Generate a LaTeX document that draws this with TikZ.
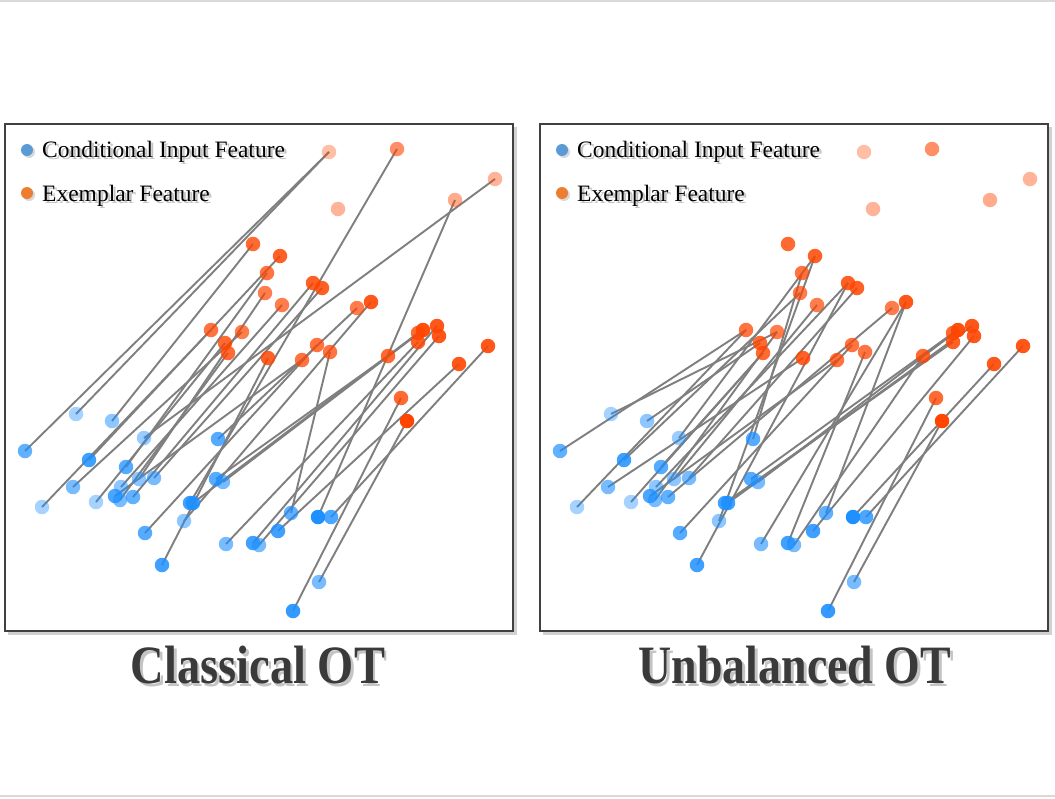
\documentclass[tikz,border=0pt]{standalone}
\usepackage{fontspec}
\setmainfont{Liberation Serif}
\usepackage{graphicx}
\definecolor{ptblue}{HTML}{1E90FF}
\definecolor{ptorange}{HTML}{FF4500}
\definecolor{legblue}{HTML}{5B9BD5}
\definecolor{legorange}{HTML}{ED7D31}
\definecolor{linkgray}{HTML}{7F7F7F}
\definecolor{framegray}{HTML}{404040}
\definecolor{titlegray}{HTML}{3A3A3A}
\definecolor{shadowgray}{HTML}{C4C4C4}
\newcommand{\shadowed}[2]{\makebox[0pt][l]{\kern#1\raisebox{-#1}{\textcolor{shadowgray}{#2}}}#2}
\pgfdeclarelayer{back}
\pgfdeclarelayer{links}
\pgfsetlayers{back,links,main}
\tikzset{
  bpt/.style={circle, fill=ptblue, inner sep=0pt, minimum size=14.5pt},
  opt/.style={circle, fill=ptorange, inner sep=0pt, minimum size=14.5pt},
  link/.style={draw=linkgray, line width=1.9pt},
  panelframe/.style={draw=framegray, line width=2pt, fill=white},
  panelshadow/.style={fill=black, opacity=0.18},
  legdot/.style={circle, inner sep=0pt, minimum size=12pt},
  legtext/.style={anchor=base west, inner sep=0pt, font=\fontsize{23.5}{26}\selectfont, text=black},
  titletext/.style={anchor=base, inner sep=0pt, font=\fontsize{54}{60}\selectfont\bfseries, text=titlegray},
}
\def\bluepts{1/25/451/0.7, 2/76/414/0.4, 3/112/421/0.5, 4/144/438/0.45, 5/218/439/0.75,
 6/89/460/0.85, 7/126/467/0.75, 8/73/487/0.6, 9/139/479/0.5, 10/154/478/0.6,
 11/42/507/0.4, 12/96/502/0.4, 13/121/487/0.5, 14/115/496/0.8, 15/120/500/0.6,
 16/133/497/0.7, 17/216/479/0.75, 18/223/482/0.6, 19/190/503/0.85, 20/193/503/0.85,
 21/184/521/0.5, 22/145/533/0.75, 23/162/565/0.85, 24/226/544/0.6, 25/253/543/0.85,
 26/259/545/0.6, 27/278/531/0.85, 28/291/513/0.7, 29/318/517/1.0, 30/331/517/0.8,
 31/319/582/0.6, 32/293/611/0.9}
\def\orangepts{1/329/152/0.35, 2/397/149/0.6, 3/495/179/0.4, 4/455/200/0.45, 5/338/209/0.4,
 6/253/244/0.8, 7/280/256/0.85, 8/267/273/0.75, 9/265/293/0.7, 10/282/305/0.7,
 11/313/283/0.85, 12/322/288/0.85, 13/357/308/0.7, 14/371/302/0.9, 15/211/330/0.75,
 16/242/332/0.7, 17/225/343/0.8, 18/228/353/0.8, 19/268/358/0.85, 20/302/360/0.75,
 21/317/345/0.75, 22/330/352/0.75, 23/388/356/0.8, 24/418/333/0.8, 25/423/330/0.95,
 26/418/342/0.85, 27/437/326/0.9, 28/439/336/0.9, 29/459/364/0.9, 30/488/346/0.9,
 31/401/398/0.8, 32/407/421/1.0}
\begin{document}
\begin{tikzpicture}[x=1pt,y=-1pt]
\useasboundingbox (0,0) rectangle (1055,798);
% background and panels
\begin{pgfonlayer}{back}
\fill[white] (0,0) rectangle (1055,798);
\draw[black!15, line width=1.5pt] (0,1) -- (1055,1);
\draw[black!15, line width=1.5pt] (0,796) -- (1055,796);
\foreach \dx in {0,535} {
  \fill[panelshadow] (\dx+8,127) rectangle (\dx+517,635);
  \draw[panelframe] (\dx+5,124) rectangle (\dx+513,631);
}
\end{pgfonlayer}
% points and legends of both panels
\foreach \pn/\dx in {L/0, R/535} {
  \begin{scope}[xshift=\dx pt]
    \foreach \n/\x/\y/\a in \bluepts {
      \node[bpt, fill opacity=\a] (\pn-b\n) at (\x,\y) {};
    }
    \foreach \n/\x/\y/\a in \orangepts {
      \node[opt, fill opacity=\a] (\pn-o\n) at (\x,\y) {};
    }
    \node[legdot, fill=black!30, opacity=0.5] (\pn-lbs) at (29,152) {};
    \node[legdot, fill=legblue] (\pn-lb) at (27,150) {};
    \node[legdot, fill=black!30, opacity=0.5] (\pn-los) at (29,195) {};
    \node[legdot, fill=legorange] (\pn-lo) at (27,193) {};
    \node[legtext] (\pn-lbt) at (42,157) {\shadowed{2.5pt}{Conditional Input Feature}};
    \node[legtext] (\pn-lot) at (42,201) {\shadowed{2.5pt}{Exemplar Feature}};
  \end{scope}
}
% matchings
\begin{pgfonlayer}{links}
\foreach \b/\o in {1/1, 2/1, 3/6, 4/3, 5/13, 6/7, 7/8, 8/16, 9/9, 10/12, 11/15, 12/17, 13/10,
 14/20, 15/18, 16/11, 17/23, 18/25, 19/2, 20/24, 21/14, 22/21, 23/19, 24/26, 25/27,
 26/28, 27/29, 28/22, 29/4, 30/30, 31/32, 32/31} {
  \draw[link] (L-b\b.center) -- (L-o\o.center);
}
\foreach \b/\o in {1/15, 2/16, 3/17, 4/7, 5/8, 6/9, 7/18, 8/19, 9/10, 10/12, 11/15, 12/18,
 13/11, 14/20, 15/16, 16/13, 17/24, 18/25, 19/26, 20/27, 21/7, 22/21, 23/11, 24/14,
 25/22, 26/23, 27/28, 28/14, 29/29, 30/30, 31/32, 32/31} {
  \draw[link] (R-b\b.center) -- (R-o\o.center);
}
\end{pgfonlayer}
% titles
\node[titletext] (t1) at (258,683) {\scalebox{0.86}[1]{\shadowed{3pt}{Classical OT}}};
\node[titletext] (t2) at (795,683) {\scalebox{0.85}[1]{\shadowed{3pt}{Unbalanced OT}}};
\end{tikzpicture}
\end{document}
